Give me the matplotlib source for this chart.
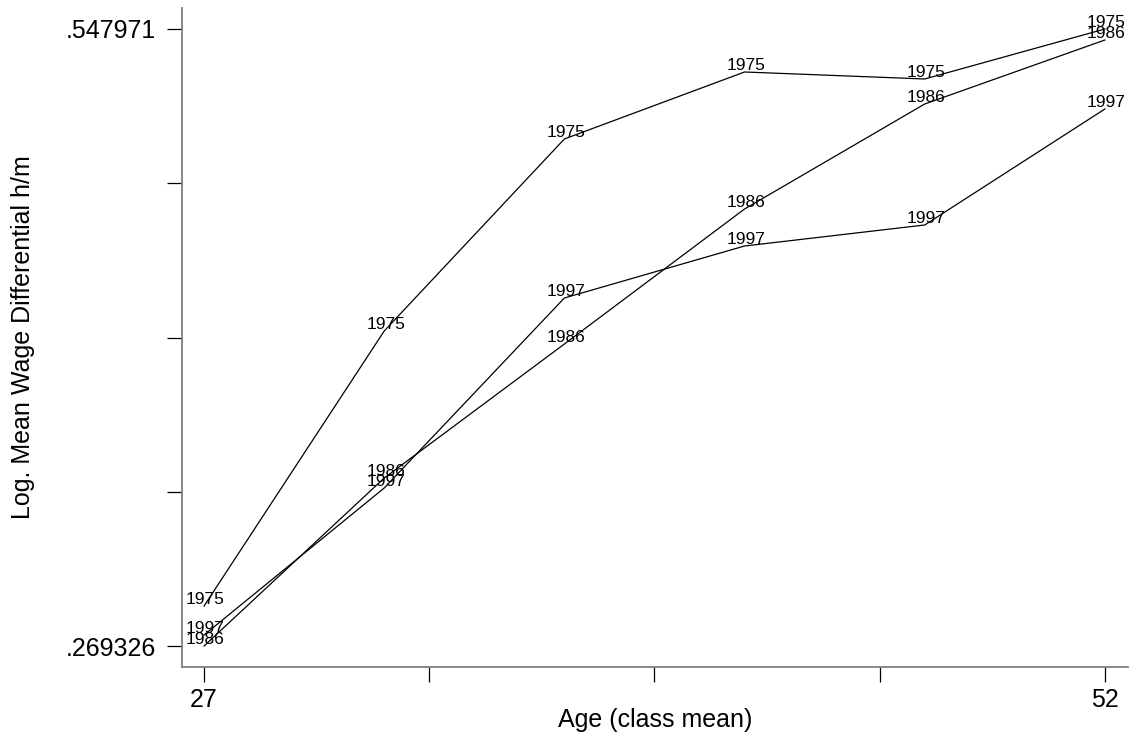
import numpy as np
import matplotlib.pyplot as plt

plt.rcParams['font.family'] = ['Liberation Sans', 'DejaVu Sans']

# age class means
age = [27, 32, 37, 42, 47, 52]
# log mean wage differential h/m by cohort year
wage_1975 = [0.28739, 0.41158, 0.49830, 0.52855, 0.52539, 0.547971]
wage_1986 = [0.269326, 0.34520, 0.40571, 0.46668, 0.51410, 0.54300]
wage_1997 = [0.27430, 0.34068, 0.42649, 0.44997, 0.45946, 0.51184]
years = ["1975", "1986", "1997"]

ymin = 0.269326
ymax = 0.547971

fig = plt.figure(figsize=(11.35, 7.4), dpi=100)
ax = fig.add_axes([0.1604, 0.0986, 0.8334, 0.8906])

for lab, vals in zip(years, [wage_1975, wage_1986, wage_1997]):
    ax.plot(age, vals, color="black", linewidth=0.9)
    for x, y in zip(age, vals):
        ax.annotate(lab, (x, y), xytext=(1, 5), textcoords="offset points",
                    ha="center", va="center", fontsize=12.5, color="black")

ax.set_xlim(26.39, 52.64)
ax.set_ylim(0.25984, 0.55745)

ax.set_xticks(np.linspace(27, 52, 5))
ax.set_xticklabels(["27", "", "", "", "52"])
ax.set_yticks(np.linspace(ymin, ymax, 5))
ax.set_yticklabels([".269326", "", "", "", ".547971"])

for s in ["top", "right"]:
    ax.spines[s].set_visible(False)
for s in ["left", "bottom"]:
    ax.spines[s].set_color("#7f7f7f")
    ax.spines[s].set_linewidth(1.3)

ax.tick_params(axis="both", direction="out", length=11, width=0.9,
               color="black", labelsize=18)
ax.tick_params(axis="x", pad=4)
ax.tick_params(axis="y", pad=8)

ax.set_xlabel("Age (class mean)", fontsize=18, labelpad=-3)
ax.set_ylabel("Log. Mean Wage Differential h/m", fontsize=18)
ax.yaxis.set_label_coords(-0.155, 0.5)

fig.savefig("out.png", dpi=100)
